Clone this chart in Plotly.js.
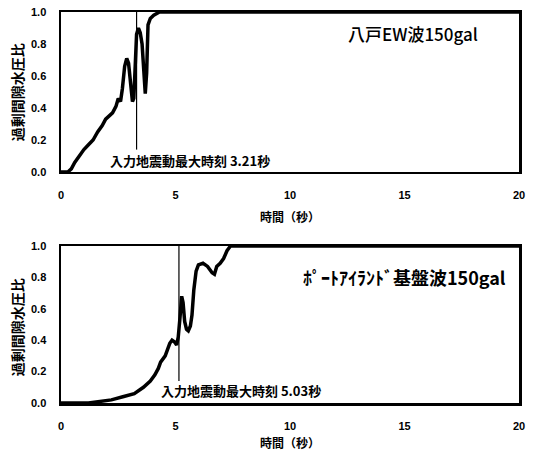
<!DOCTYPE html>
<html><head><meta charset="utf-8">
<script src="https://cdn.plot.ly/plotly-3.0.1.min.js"></script>
<style>html,body{margin:0;padding:0;background:#fff;}#plot{width:533px;height:452px;}</style>
</head><body><div id="plot"></div>
<script>
// Top: 八戸EW波150gal
const t1 = [0, 0.3, 0.45, 0.6, 0.8, 1.0, 1.2, 1.4, 1.6, 1.8, 1.95, 2.1, 2.25, 2.4, 2.5, 2.6, 2.68, 2.78, 2.87, 2.95, 3.05, 3.12, 3.18, 3.24, 3.3, 3.38, 3.46, 3.54, 3.62, 3.68, 3.74, 3.8, 3.9, 4.05, 4.3, 5, 10, 20];
const v1 = [0, 0, 0.02, 0.06, 0.1, 0.14, 0.17, 0.2, 0.25, 0.29, 0.33, 0.35, 0.37, 0.41, 0.46, 0.44, 0.52, 0.66, 0.71, 0.68, 0.55, 0.44, 0.46, 0.7, 0.86, 0.90, 0.87, 0.80, 0.56, 0.49, 0.62, 0.92, 0.96, 0.98, 1.0, 1.0, 1.0, 1.0];
// Bottom: ポートアイランド基盤波150gal
const t2 = [0, 1.2, 1.7, 2.2, 2.7, 3.2, 3.6, 3.9, 4.1, 4.25, 4.35, 4.45, 4.55, 4.65, 4.75, 4.85, 4.95, 5.05, 5.12, 5.2, 5.27, 5.33, 5.4, 5.48, 5.56, 5.65, 5.72, 5.8, 5.9, 6.0, 6.2, 6.4, 6.6, 6.7, 6.8, 6.95, 7.1, 7.25, 7.4, 8, 20];
const v2 = [0, 0, 0.01, 0.02, 0.04, 0.06, 0.1, 0.14, 0.18, 0.22, 0.26, 0.28, 0.30, 0.34, 0.38, 0.40, 0.39, 0.37, 0.42, 0.55, 0.68, 0.64, 0.52, 0.47, 0.46, 0.49, 0.56, 0.72, 0.84, 0.88, 0.89, 0.87, 0.83, 0.82, 0.87, 0.89, 0.92, 0.97, 1.0, 1.0, 1.0];
// Peak input motion time markers (as drawn)
const peakX1 = [3.3, 3.3], peakY1 = [0.14, 1.0];
const peakX2 = [5.15, 5.15], peakY2 = [0.14, 1.0];
const title1 = "八戸EW波150gal";
const title2 = "ﾎﾟｰﾄｱｲﾗﾝﾄﾞ基盤波150gal";
const peakLabel1 = "入力地震動最大時刻 3.21秒";
const peakLabel2 = "入力地震動最大時刻 5.03秒";
const xTitle = "時間（秒）";
const yTitle = "過剰間隙水圧比";
const xTicks = [0, 5, 10, 15, 20];
const yTicks = [0, 0.2, 0.4, 0.6, 0.8, 1.0];

const cjk = '"Noto Sans CJK JP", sans-serif';
const num = '"Liberation Sans", Arial, sans-serif';

const traces = [
  {x: t1, y: v1, xaxis: 'x', yaxis: 'y', mode: 'lines', line: {color: '#000', width: 3.5}, hoverinfo: 'skip'},
  {x: peakX1, y: peakY1, xaxis: 'x', yaxis: 'y', mode: 'lines', line: {color: '#000', width: 1.2}, hoverinfo: 'skip'},
  {x: t2, y: v2, xaxis: 'x2', yaxis: 'y2', mode: 'lines', line: {color: '#000', width: 3.5}, hoverinfo: 'skip'},
  {x: peakX2, y: peakY2, xaxis: 'x2', yaxis: 'y2', mode: 'lines', line: {color: '#000', width: 1.2}, hoverinfo: 'skip'}
];

function xax(anchor) {
  return {anchor: anchor, range: [0, 20], tickvals: xTicks, ticktext: xTicks.map(String),
    showgrid: false, zeroline: false, showline: true, mirror: true, linecolor: '#000', linewidth: 2.5,
    ticks: '', ticklabelstandoff: 11, tickfont: {family: num, size: 11, color: '#000', weight: 'bold'}, fixedrange: true};
}
function yax(anchor, domain) {
  return {anchor: anchor, domain: domain, range: [0, 1], tickvals: yTicks, ticktext: yTicks.map(v => v.toFixed(1)),
    showgrid: false, zeroline: false, showline: true, mirror: true, linecolor: '#000', linewidth: 2.5,
    ticks: '', ticklabelstandoff: 10, tickfont: {family: num, size: 11, color: '#000', weight: 'bold'}, fixedrange: true};
}

const layout = {
  width: 533, height: 452,
  margin: {l: 61, r: 14, t: 12, b: 49},
  paper_bgcolor: '#fff', plot_bgcolor: '#fff',
  showlegend: false,
  xaxis: xax('y'),
  yaxis: yax('x', [0.5908, 1.0]),
  xaxis2: xax('y2'),
  yaxis2: yax('x2', [0, 0.4015]),
  annotations: [
    {xref: 'x', yref: 'y', x: 12.45, y: 0.865, text: title1, showarrow: false, xanchor: 'left', yanchor: 'middle', font: {family: cjk, size: 17, color: '#000', weight: 500}},
    {xref: 'x2', yref: 'y2', x: 10.5, y: 0.80, text: title2, showarrow: false, xanchor: 'left', yanchor: 'middle', font: {family: cjk, size: 18, color: '#000', weight: 'bold'}},
    {xref: 'x', yref: 'y', x: 2.05, y: 0.075, text: peakLabel1, showarrow: false, xanchor: 'left', yanchor: 'middle', font: {family: cjk, size: 13, color: '#000', weight: 'bold'}},
    {xref: 'x2', yref: 'y2', x: 4.3, y: 0.08, text: peakLabel2, showarrow: false, xanchor: 'left', yanchor: 'middle', font: {family: cjk, size: 13, color: '#000', weight: 'bold'}},
    {xref: 'paper', yref: 'paper', x: 0.5, y: 0.478, text: xTitle, showarrow: false, xanchor: 'center', yanchor: 'middle', font: {family: cjk, size: 12, color: '#000', weight: 'bold'}},
    {xref: 'paper', yref: 'paper', x: 0.5, y: -0.1, text: xTitle, showarrow: false, xanchor: 'center', yanchor: 'middle', font: {family: cjk, size: 12, color: '#000', weight: 'bold'}},
    {xref: 'paper', yref: 'paper', x: -0.096, y: 0.795, text: yTitle, showarrow: false, textangle: -90, xanchor: 'center', yanchor: 'middle', font: {family: cjk, size: 14, color: '#000', weight: 'bold'}},
    {xref: 'paper', yref: 'paper', x: -0.096, y: 0.194, text: yTitle, showarrow: false, textangle: -90, xanchor: 'center', yanchor: 'middle', font: {family: cjk, size: 14, color: '#000', weight: 'bold'}}
  ]
};

Plotly.newPlot('plot', traces, layout, {displayModeBar: false, staticPlot: true});
</script>
</body></html>
